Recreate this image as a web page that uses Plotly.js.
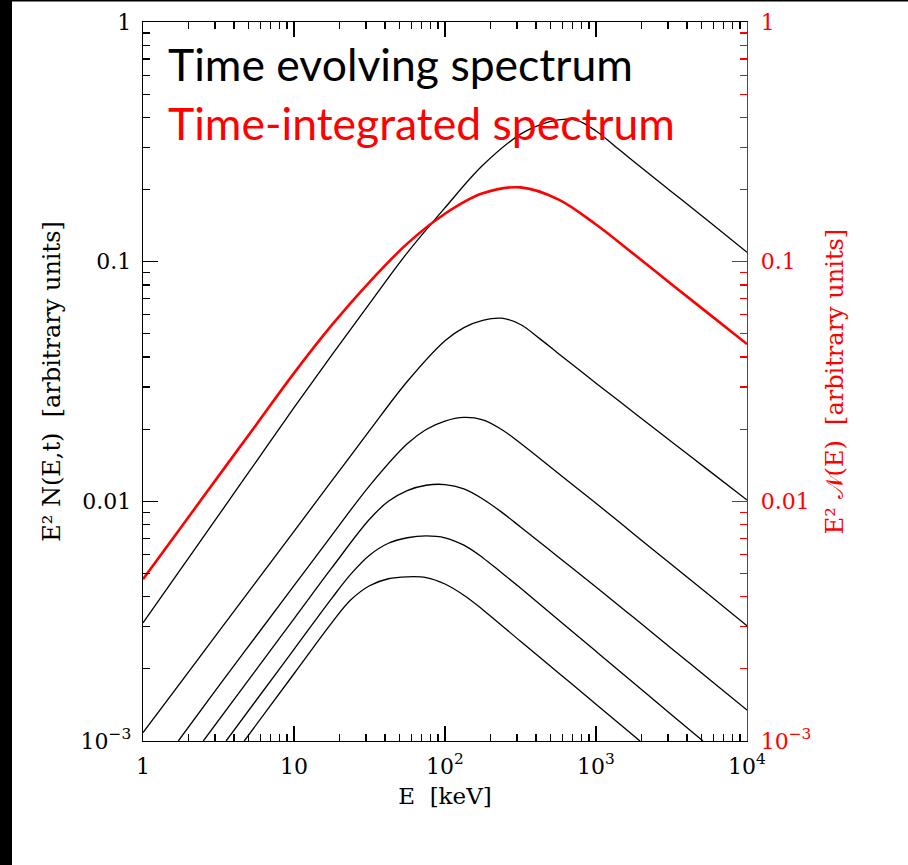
<!DOCTYPE html>
<html><head><meta charset="utf-8">
<script src="https://cdn.plot.ly/plotly-3.0.1.min.js"></script>
<style>html,body{margin:0;padding:0;background:#fff;}#chart{width:908px;height:865px;}</style>
</head><body><div id="chart"></div>
<script>
// ---- data (E in keV, values in arbitrary units) ----
const curve1E = [1, 1.778, 3.162, 5.623, 10, 17.78, 31.62, 56.23, 100, 177.8, 316.2, 421.7, 562.3, 749.9, 1000, 1334, 1778, 3162, 5623, 10000];
const curve1V = [0.003112, 0.005212, 0.00873, 0.01466, 0.0246, 0.04074, 0.06683, 0.1089, 0.1679, 0.2523, 0.3404, 0.3715, 0.3908, 0.3890, 0.3508, 0.3034, 0.2618, 0.1959, 0.1466, 0.1094];
const curve2E = [1, 1.778, 3.162, 5.623, 10, 17.78, 31.62, 56.23, 100, 133.4, 177.8, 237.1, 316.2, 421.7, 562.3, 749.9, 1000, 1778, 3162, 5623, 10000];
const curve2V = [0.001084, 0.001758, 0.002851, 0.004624, 0.0075, 0.01216, 0.01972, 0.03162, 0.04677, 0.05309, 0.05689, 0.05808, 0.05470, 0.04786, 0.04140, 0.03589, 0.03112, 0.02350, 0.01774, 0.01340, 0.01012];
const curve3E = [1.713, 3.162, 5.623, 10, 17.78, 31.62, 56.23, 74.99, 100, 133.4, 177.8, 237.1, 316.2, 562.3, 1000, 1778, 3162, 5623, 10000];
const curve3V = [0.001, 0.00169, 0.002742, 0.004446, 0.007211, 0.01161, 0.01738, 0.01995, 0.02163, 0.02239, 0.02188, 0.01995, 0.01746, 0.01309, 0.009817, 0.007311, 0.005445, 0.004064, 0.003027];
const curve4E = [2.507, 5.623, 10, 17.78, 31.62, 42.17, 56.23, 74.99, 100, 133.4, 177.8, 237.1, 316.2, 562.3, 1000, 1778, 3162, 5623, 10000];
const curve4V = [0.001, 0.001986, 0.003236, 0.005272, 0.008414, 0.01, 0.01109, 0.01167, 0.01175, 0.01127, 0.01023, 0.009016, 0.007816, 0.005861, 0.004395, 0.003273, 0.002432, 0.001811, 0.001346];
const curve5E = [3.55, 5.623, 10, 17.78, 23.71, 31.62, 42.17, 56.23, 74.99, 100, 133.4, 177.8, 237.1, 316.2, 562.3, 1000, 1778, 3162, 5112];
const curve5V = [0.001, 0.001479, 0.002413, 0.003936, 0.004955, 0.005957, 0.006683, 0.007047, 0.007178, 0.007047, 0.006561, 0.005821, 0.005035, 0.004345, 0.003206, 0.002366, 0.001746, 0.001288, 0.001];
const curve6E = [4.68, 10, 17.78, 23.71, 31.62, 42.17, 56.23, 74.99, 100, 133.4, 177.8, 316.2, 562.3, 1000, 1956];
const curve6V = [0.001, 0.001908, 0.003112, 0.003873, 0.004446, 0.004753, 0.004842, 0.004808, 0.004519, 0.004055, 0.003532, 0.002606, 0.001928, 0.001422, 0.001];
const integE = [1, 1.778, 3.162, 5.623, 10, 17.78, 31.62, 56.23, 100, 177.8, 316.2, 562.3, 1000, 1778, 3162, 5623, 10000];
const integV = [0.00473, 0.00776, 0.01274, 0.02089, 0.03428, 0.05433, 0.08222, 0.1189, 0.1585, 0.1928, 0.2042, 0.1820, 0.1429, 0.1076, 0.0805, 0.0604, 0.0453];

const xTickVals = [1, 10, 100, 1000, 10000];
const xTickText = ['1', '10', '10<sup>2</sup>', '10<sup>3</sup>', '10<sup>4</sup>'];
const yTickVals = [0.001, 0.01, 0.1, 1];
const yTickText = ['10<sup>\u22123</sup>', '0.01', '0.1', '1'];
const legendLines = ['Time evolving spectrum', 'Time-integrated spectrum'];
const xTitle = 'E  [keV]';
const yTitleLeft = 'E\u00B2 N(E,t)  [arbitrary units]';
const yTitleRight = 'E\u00B2 \uD835\uDCA9(E)  [arbitrary units]';

// ---- minor tick positions (2..9 per decade) ----
function minorTicks(lo, hi) {
  const out = [];
  for (let d = lo; d < hi; d++) for (let m = 2; m <= 9; m++) out.push(m * Math.pow(10, d));
  return out;
}

const blackCurves = [[curve1E, curve1V], [curve2E, curve2V], [curve3E, curve3V],
                     [curve4E, curve4V], [curve5E, curve5V], [curve6E, curve6V]];
const traces = blackCurves.map(([e, v]) => ({
  x: e, y: v, type: 'scatter', mode: 'lines', xaxis: 'x', yaxis: 'y',
  line: {color: '#000', width: 1.3, shape: 'spline', smoothing: 1},
  hoverinfo: 'skip', showlegend: false
}));
traces.push({
  x: integE, y: integV, type: 'scatter', mode: 'lines', xaxis: 'x', yaxis: 'y2',
  line: {color: '#ff0000', width: 2.6, shape: 'spline', smoothing: 1},
  hoverinfo: 'skip', showlegend: false
});

const serif = 'DejaVu Serif, serif';
const tickFontSize = 22;

function yAxisBase(color) {
  return {
    type: 'log', range: [-3, 0], showline: true, linecolor: color, linewidth: 1.3,
    ticks: 'inside', ticklen: 15, tickwidth: 1.3, tickcolor: color,
    tickmode: 'array', tickvals: yTickVals, ticktext: yTickText,
    tickfont: {family: serif, size: tickFontSize, color: color},
    minor: {ticks: 'inside', ticklen: 7, tickwidth: 1.3, tickcolor: color,
            tickmode: 'array', tickvals: minorTicks(-3, 0), showgrid: false},
    showgrid: false, zeroline: false, automargin: false
  };
}

const PL = 143, PR = 747, PT = 22, PB = 741, W = 908, H = 865;
const px = (X) => (X - PL) / (PR - PL);
const py = (Y) => (PB - Y) / (PB - PT);

const layout = {
  width: W, height: H,
  margin: {l: PL, r: W - PR, t: PT, b: H - PB, pad: 0},
  paper_bgcolor: '#fff', plot_bgcolor: '#fff',
  showlegend: false,
  xaxis: {
    type: 'log', range: [0, 4], showline: true, linecolor: '#000', linewidth: 1.3,
    mirror: 'ticks', ticks: 'inside', ticklen: 15, tickwidth: 1.3, tickcolor: '#000',
    tickmode: 'array', tickvals: xTickVals, ticktext: xTickText,
    tickfont: {family: serif, size: tickFontSize, color: '#000'},
    ticklabelstandoff: 5,
    minor: {ticks: 'inside', ticklen: 7, tickwidth: 1.3, tickcolor: '#000',
            tickmode: 'array', tickvals: minorTicks(0, 4), showgrid: false},
    showgrid: false, zeroline: false, automargin: false,
    title: {text: xTitle, font: {family: serif, size: 23, color: '#000'}, standoff: 10}
  },
  yaxis: Object.assign(yAxisBase('#000'), {
    side: 'left', ticklabelstandoff: 6,
    title: {text: yTitleLeft, font: {family: serif, size: 24, color: '#000'}, standoff: 13}
  }),
  yaxis2: Object.assign(yAxisBase('#ff0000'), {
    side: 'right', overlaying: 'y', ticklabelstandoff: 8,
    title: {text: yTitleRight, font: {family: serif, size: 24, color: '#ff0000'}, standoff: 15}
  }),
  shapes: [
    {type: 'rect', xref: 'paper', yref: 'paper', x0: px(0), x1: px(12), y0: py(H), y1: py(0),
     fillcolor: '#000', line: {width: 0}, layer: 'above'},
    {type: 'rect', xref: 'paper', yref: 'paper', x0: px(0), x1: px(W), y0: py(1.5), y1: py(0),
     fillcolor: '#000', line: {width: 0}, layer: 'above'}
  ],
  annotations: [
    {text: legendLines[0], xref: 'paper', yref: 'paper', x: px(166), y: py(64),
     xanchor: 'left', yanchor: 'middle', showarrow: false,
     font: {family: 'Lato, sans-serif', size: 44.5, color: '#000'}},
    {text: legendLines[1], xref: 'paper', yref: 'paper', x: px(166), y: py(122),
     xanchor: 'left', yanchor: 'middle', showarrow: false,
     font: {family: 'Lato, sans-serif', size: 44.5, color: '#ff0000'}}
  ]
};

Plotly.newPlot('chart', traces, layout, {staticPlot: true, displayModeBar: false});
</script>
</body></html>
